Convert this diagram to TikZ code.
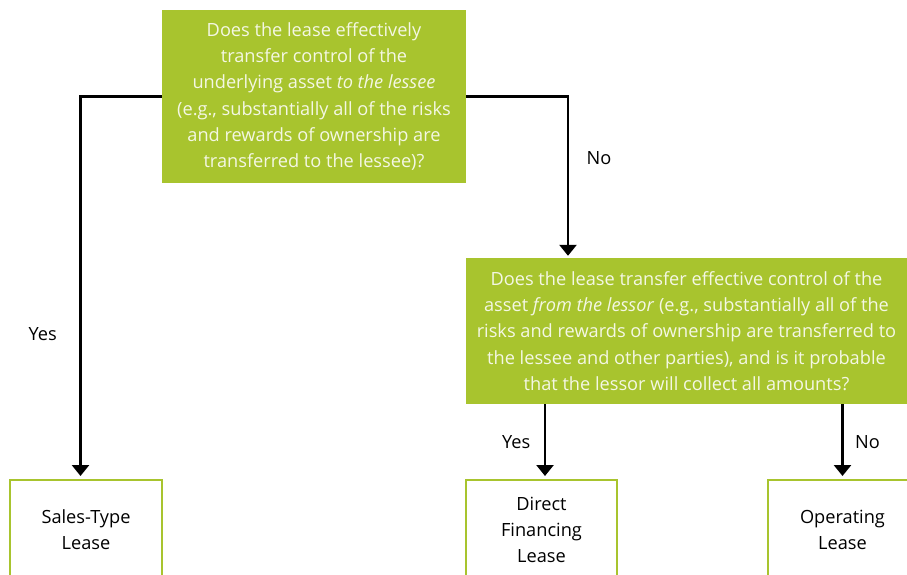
\documentclass[tikz,border=0pt]{standalone}
\usepackage{fontspec}
\setmainfont{Open Sans}
\usetikzlibrary{positioning}
\usetikzlibrary{calc}
\usetikzlibrary{arrows.meta}
\definecolor{leasegreen}{RGB}{168,196,46}
\definecolor{leasetext}{RGB}{244,247,228}
\tikzset{
    % Solid triangular heads, as on the flow lines
    >={Triangle[width=17pt,length=11pt]},
%
    % Question boxes: filled green with pale text
    question/.style={rectangle, fill=leasegreen, text=leasetext,
        align=center, inner sep=0pt},
%
    % Outcome boxes: white with a green border
    outcome/.style={rectangle, draw=leasegreen, line width=2pt,
        fill=white, align=center, inner sep=0pt,
        minimum height=100pt},
%
    % The connecting lines
    flow/.style={draw, line width=2.6pt, ->, shorten >=3pt},
%
    % Yes / No labels beside the lines
    answer/.style={font=\fontsize{18.2}{20}\selectfont}}

\begin{document}
\begin{tikzpicture}[x=1pt, y=-1pt, font=\fontsize{18.2}{26.3}\selectfont]

\useasboundingbox (0,0) rectangle (907,574);
\clip (0,0) rectangle (907,574);

\node (lessee) [question, minimum width=304pt, minimum height=173pt]
    at (314,96.5)
    {Does the lease effectively\\transfer control of the\\underlying
     asset \textit{to the lessee}\\(e.g., substantially all of the risks\\and
     rewards of ownership are\\transferred to the lessee)?};
\node (lessor) [question, minimum width=441pt, minimum height=146pt]
    at (686.5,331)
    {Does the lease transfer effective control of the\\asset \textit{from the
     lessor} (e.g., substantially all of the\\risks and rewards of ownership
     are transferred to\\the lessee and other parties), and is it
     probable\\that the lessor will collect all amounts?};

\node (salestype) [outcome, minimum width=152pt] at (86,530)
    {Sales-Type\\Lease};
\node (direct) [outcome, minimum width=151pt] at (541.5,530)
    {Direct\\Financing\\Lease};
\node (operating) [outcome, minimum width=149pt] at (842.5,530)
    {Operating\\Lease};

\draw [flow] (lessee.west) -| ([xshift=-5.5pt]salestype.north)
    node [answer, pos=0.81, anchor=east, xshift=-19pt] {Yes};
\draw [flow, shorten >=2pt] (lessee.east) -| ([xshift=-118.5pt]lessor.north)
    node [answer, pos=0.69, anchor=west, xshift=14pt] {No};
\draw [flow] ([xshift=3.5pt]direct.north |- lessor.south)
    -- ([xshift=3.5pt]direct.north)
    node [answer, midway, anchor=east, xshift=-10pt] {Yes};
\draw [flow] (operating.north |- lessor.south) -- (operating.north)
    node [answer, midway, anchor=west, xshift=8pt] {No};

\end{tikzpicture}
\end{document}
